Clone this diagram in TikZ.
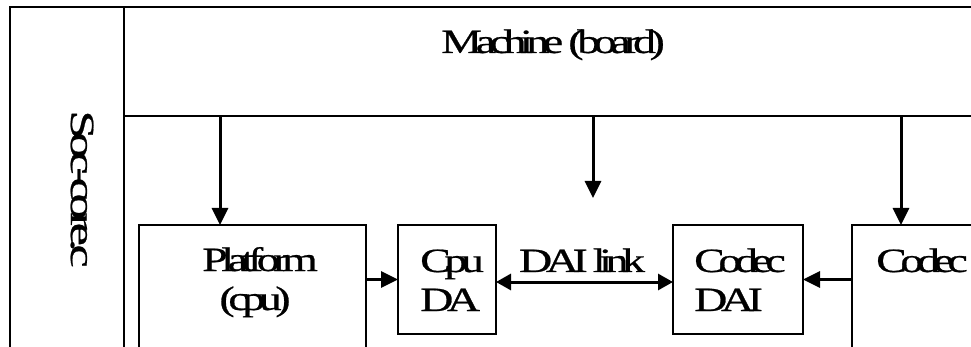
\documentclass[tikz,border=0pt]{standalone}
\usepackage{fontspec}
\usepackage{graphicx}
\setmainfont{Liberation Serif}[LetterSpace=-14,FakeBold=0.6]
\usetikzlibrary{arrows.meta}
% wide, tightly packed lettering used for every label
\newcommand\widetext[2][1.35]{\scalebox{#1}[1]{#2}}
\begin{document}
\begin{tikzpicture}[x=1pt,y=-1pt,
  frame/.style={draw, line width=1.2pt, inner sep=0pt, outer sep=0pt},
  lbl/.style={inner sep=0pt, font=\fontsize{34}{40}\selectfont},
  arr/.style={line width=3pt, -{Triangle[length=17pt,width=16pt]}},
  arrboth/.style={line width=3pt, {Triangle[length=15pt,width=16pt]}-{Triangle[length=15pt,width=16pt]}}]
\useasboundingbox (0,0) rectangle (971,347);
\clip (0,0) rectangle (971,347);
\fill[white] (0,0) rectangle (971,347);

% layers and blocks (the outer ones run past the page edges)
\node[frame, minimum width=114pt, minimum height=413pt] (soc) at (67,213.5) {};
\node[frame, minimum width=976pt, minimum height=109pt] (machine) at (612,61.5) {};
\node[frame, minimum width=227pt, minimum height=195pt] (plat) at (252.5,322.5) {};
\node[frame, minimum width=98pt, minimum height=109pt] (cpuda) at (447,279.5) {};
\node[frame, minimum width=130pt, minimum height=109pt] (codecdai) at (738,279.5) {};
\node[frame, minimum width=248pt, minimum height=195pt] (codec) at (976,322.5) {};

% labels
\node[lbl, rotate=-90] (socTxt) at (82,189) {\widetext[1.55]{Soc-core.c}};
\node[lbl, anchor=base] (machineTxt) at (553,53) {\widetext{Machine (board)}};
\node[lbl, anchor=base] (platTxtA) at (260,271) {\widetext{Platform}};
\node[lbl, anchor=base] (platTxtB) at (255,310) {\widetext{(cpu)}};
\node[lbl, anchor=base west] (cpuTxtA) at (420,272) {\widetext{Cpu}};
\node[lbl, anchor=base west] (cpuTxtB) at (420,311) {\widetext{DA}};
\node[lbl, anchor=base] (linkTxt) at (582,272) {\widetext{DAI link}};
\node[lbl, anchor=base west] (cdaiTxtA) at (694,272) {\widetext{Codec}};
\node[lbl, anchor=base west] (cdaiTxtB) at (694,311) {\widetext{DAI}};
\node[lbl, anchor=base west] (codecTxt) at (876,272) {\widetext{Codec}};

% connectors
\coordinate (platIn) at ([xshift=81pt]plat.north west);
\coordinate (codecIn) at ([xshift=49pt]codec.north west);
\coordinate (linkHint) at (593,198);
\draw[arr] (machine.south -| platIn) -- (platIn);
\draw[arr] (machine.south -| linkHint) -- (linkHint);
\draw[arr] (machine.south -| codecIn) -- (codecIn);
\draw[arr] (plat.east |- cpuda.west) -- (cpuda.west);
\draw[arrboth] ([yshift=-2.5pt]cpuda.east) -- ([yshift=-2.5pt]codecdai.west);
\draw[arr] (codec.west |- codecdai.east) -- (codecdai.east);
\end{tikzpicture}
\end{document}
